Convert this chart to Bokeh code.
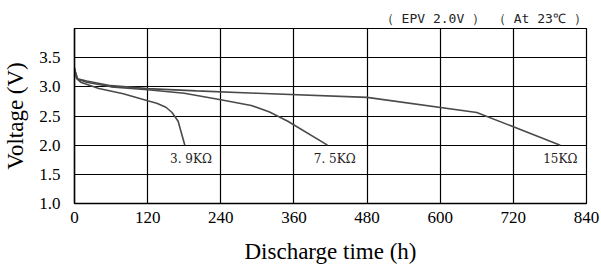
from bokeh.plotting import figure
from bokeh.models import Label, FixedTicker, PrintfTickFormatter, Range1d, Title
from bokeh.embed import file_html
from bokeh.resources import INLINE

# Discharge time (h) and voltage (V) for each load
t_39k = [0, 3, 10, 40, 80, 120, 135, 150, 160, 170, 181]
v_39k = [3.33, 3.15, 3.08, 2.97, 2.88, 2.76, 2.72, 2.65, 2.56, 2.41, 2.0]

t_75k = [0, 5, 20, 60, 120, 180, 240, 290, 320, 350, 415]
v_75k = [3.30, 3.13, 3.08, 3.0, 2.95, 2.89, 2.78, 2.68, 2.57, 2.41, 2.0]

t_15k = [0, 5, 20, 60, 120, 200, 300, 480, 660, 797]
v_15k = [3.30, 3.14, 3.10, 3.02, 2.97, 2.93, 2.89, 2.82, 2.56, 2.0]

x_ticks = [0, 120, 240, 360, 480, 600, 720, 840]
y_ticks = [1.0, 1.5, 2.0, 2.5, 3.0, 3.5]
y_grid = [1.0, 1.5, 2.0, 2.5, 3.0, 3.5, 4.0]

labels = ["3. 9KΩ", "7. 5KΩ", "15KΩ"]
note = "（ EPV 2.0V ）  （ At 23℃ ）"

p = figure(width=600, height=266, output_backend="svg", toolbar_location=None,
           x_range=Range1d(0, 840), y_range=Range1d(1.0, 4.0),
           min_border_left=73, min_border_right=14, min_border_top=28, min_border_bottom=58)
p.background_fill_color = "white"
p.border_fill_color = "white"
p.outline_line_color = "black"
p.outline_line_width = 1.2

line_color = "#4a4a4a"
for t, v in [(t_39k, v_39k), (t_75k, v_75k), (t_15k, v_15k)]:
    p.line(t, v, line_color=line_color, line_width=1.6)

p.xaxis.ticker = FixedTicker(ticks=x_ticks)
p.yaxis.ticker = FixedTicker(ticks=y_ticks)
p.ygrid.ticker = FixedTicker(ticks=y_grid)
p.yaxis.formatter = PrintfTickFormatter(format="%.1f")
for g in (p.xgrid, p.ygrid):
    g.grid_line_color = "black"
    g.grid_line_width = 1.2
    g.grid_line_alpha = 1.0

for ax in (p.xaxis, p.yaxis):
    ax.major_tick_line_color = None
    ax.minor_tick_line_color = None
    ax.axis_line_color = "black"
    ax.axis_line_width = 1.5
    ax.major_label_text_font = "Liberation Serif"
    ax.major_label_text_font_size = "17px"
    ax.major_label_text_color = "black"
    ax.axis_label_text_font = "Liberation Serif"
    ax.axis_label_text_font_size = "23px"
    ax.axis_label_text_font_style = "normal"
    ax.axis_label_text_color = "black"

p.xaxis.major_label_standoff = 2
p.yaxis.major_label_standoff = 8
p.xaxis.axis_label = "Discharge time (h)"
p.yaxis.axis_label = "Voltage (V)"
p.xaxis.axis_label_standoff = 13
p.yaxis.axis_label_standoff = 8

label_x = [191, 427, 797]
for txt, lx in zip(labels, label_x):
    p.add_layout(Label(x=lx, y=1.77, text=txt, text_align="center", text_baseline="middle",
                       text_font="DejaVu Serif", text_font_size="12px", text_color="#222222"))

p.add_layout(Title(text=note, align="right", offset=-8, standoff=6,
                   text_font="DejaVu Sans Mono", text_font_size="13px",
                   text_font_style="normal", text_color="#222222"), "above")

open("out.html", "w").write(file_html(p, INLINE))
